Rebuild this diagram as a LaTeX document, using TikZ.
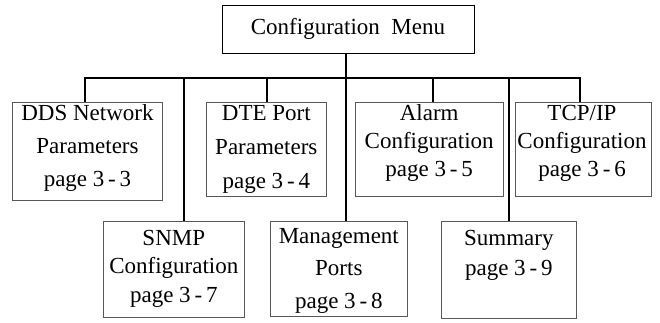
\documentclass[tikz,border=0pt]{standalone}
\usepackage{fontspec}
\setmainfont{Liberation Serif}
\usetikzlibrary{calc}

\begin{document}
\begin{tikzpicture}[x={(1pt,0pt)},y={(0pt,-1pt)},
	menubox/.style={draw=black!65,line width=0.8pt,inner sep=0pt},
	boxtext/.style={align=center,inner sep=0pt,font=\fontsize{23}{#1}\selectfont},
	link/.style={line width=2.2pt}]
				\useasboundingbox (0,0) rectangle (660,322);
				% the top of the menu tree
				\node[menubox,draw=black,minimum width=252pt,minimum height=48pt,font=\fontsize{23}{28}\selectfont] (menu) at (348,29) {Configuration\ \ Menu};
				% first row of sub-menus
				\node[menubox,minimum width=149.6pt,minimum height=98.7pt] (dds) at (87.5,151.4) {};
				\node[menubox,minimum width=119.3pt,minimum height=94pt] (dte) at (266.3,149) {};
				\node[menubox,minimum width=148.3pt,minimum height=94.7pt] (alarm) at (429.2,149.3) {};
				\node[menubox,minimum width=136.7pt,minimum height=94pt] (tcp) at (583.3,149) {};
				% second row, hung lower
				\node[menubox,minimum width=141pt,minimum height=95.6pt] (snmp) at (173.8,269.5) {};
				\node[menubox,minimum width=137.7pt,minimum height=95pt] (mgmt) at (338.8,269.2) {};
				\node[menubox,minimum width=135.7pt,minimum height=96.6pt] (summary) at (508.8,270) {};
				% what each box says
				\node[boxtext=33] (ddstext) at (87.5,147.5) {DDS Network\\Parameters\\page 3\,-\,3};
				\node[boxtext=34] (dtetext) at (266.3,149) {DTE Port\\Parameters\\page 3\,-\,4};
				\node[boxtext=28] (alarmtext) at (429.2,143) {Alarm\\Configuration\\page 3\,-\,5};
				\node[boxtext=28] (tcptext) at (582,143) {TCP/IP\\Configuration\\page 3\,-\,6};
				\node[boxtext=28.5] (snmptext) at (173.8,268.5) {SNMP\\Configuration\\page 3\,-\,7};
				\node[boxtext=32.5] (mgmttext) at (338.8,270.5) {Management\\Ports\\page 3\,-\,8};
				\node[boxtext=30] (summarytext) at (508.8,255) {Summary\\page 3\,-\,9};
				% the bar and the drops down to every box
				\foreach \name/\x in {dds/85,snmp/183.7,dte/266.7,mgmt/345.7,alarm/432.7,summary/509.3,tcp/580}{
					\coordinate (\name-bar) at (\x,78);
					\draw[link] (\name-bar) -- (\name-bar |- \name.north);
				}
				\draw[link,line cap=rect] (dds-bar) -- (tcp-bar);
				\draw[link] (menu.south -| mgmt-bar) -- (mgmt-bar);
			\end{tikzpicture}
\end{document}
